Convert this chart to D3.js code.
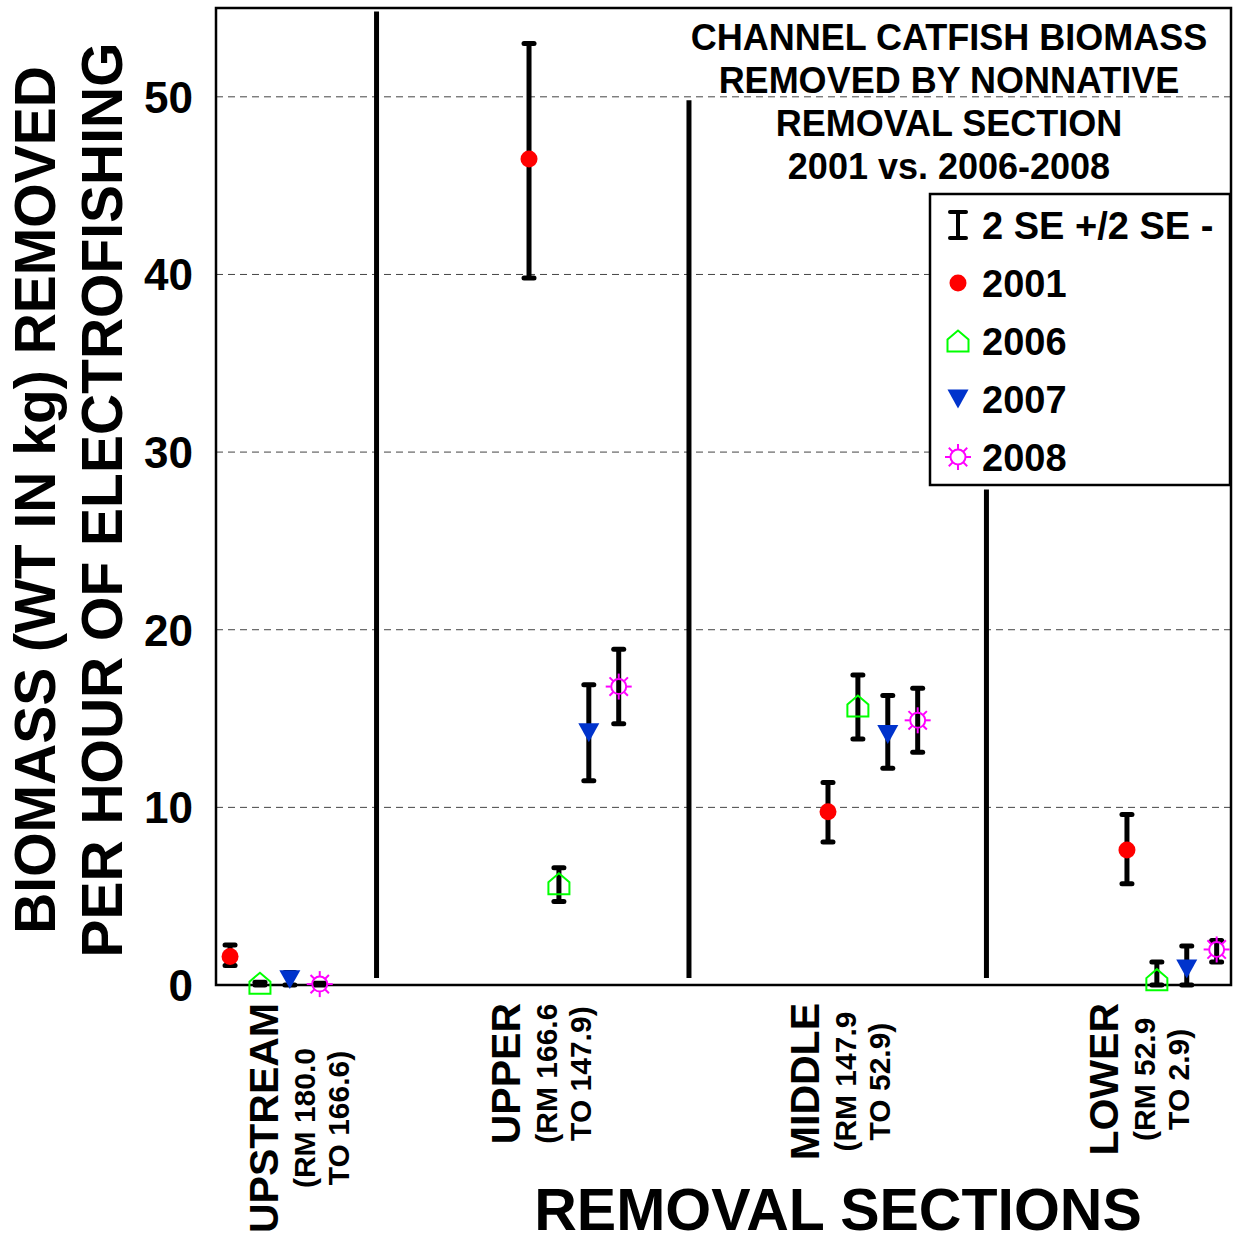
<!DOCTYPE html>
<html>
<head>
<meta charset="utf-8">
<script src="https://cdn.jsdelivr.net/npm/d3@7"></script>
<style>
  html, body { margin: 0; padding: 0; background: #fff; }
  svg { display: block; }
  text { font-family: "Liberation Sans", Arial, sans-serif; font-weight: bold; fill: #000; }
</style>
</head>
<body>
<svg id="chart" width="1239" height="1238"></svg>
<script>
// --- data ---
const groups = ["UPSTREAM", "UPPER", "MIDDLE", "LOWER"];
const groupSub1 = ["(RM 180.0", "(RM 166.6", "(RM 147.9", "(RM 52.9"];
const groupSub2 = ["TO 166.6)", "TO 147.9)", "TO 52.9)", "TO 2.9)"];
const groupOffset = [0, 10, 20, 30];          // x units per section
const labelOffset = [1.6, -0.3, -0.3, -0.3];   // where the section label sits
const separators = [4.9, 15.35, 25.3];
const separatorTop = [54.8, 49.8, 27.9];
const years = ["2001", "2006", "2007", "2008"];

const mean2001 = [1.6, 46.5, 9.75, 7.6];
const hi2001   = [2.25, 53.0, 11.4, 9.6];
const lo2001   = [1.1, 39.8, 8.05, 5.7];
const mean2006 = [0.1, 5.7, 15.7, 0.3];
const hi2006   = [0.15, 6.6, 17.45, 1.3];
const lo2006   = [0.0, 4.7, 13.85, 0.0];
const mean2007 = [0.3, 14.2, 14.1, 0.9];
const hi2007   = [0.7, 16.9, 16.3, 2.2];
const lo2007   = [0.0, 11.5, 12.2, 0.0];
const mean2008 = [0.05, 16.8, 14.9, 2.0];
const hi2008   = [0.1, 18.9, 16.7, 2.5];
const lo2008   = [0.0, 14.7, 13.1, 1.3];

const yTicks = [0, 10, 20, 30, 40, 50];
const titleLines = ["CHANNEL CATFISH BIOMASS", "REMOVED BY NONNATIVE", "REMOVAL SECTION", "2001 vs. 2006-2008"];
const legendLabels = ["2 SE +/2 SE -", "2001", "2006", "2007", "2008"];

const series = [
  { year: "2001", mean: mean2001, hi: hi2001, lo: lo2001, shape: "circle", color: "#ff0000" },
  { year: "2006", mean: mean2006, hi: hi2006, lo: lo2006, shape: "house", color: "#00ff00" },
  { year: "2007", mean: mean2007, hi: hi2007, lo: lo2007, shape: "tri", color: "#0033cc" },
  { year: "2008", mean: mean2008, hi: hi2008, lo: lo2008, shape: "sun", color: "#ff00ff" }
];

// --- layout ---
const svg = d3.select("#chart");
const plot = { left: 216, top: 8, right: 1231, bottom: 985 };

const x = d3.scaleLinear().domain([-0.47, 33.48]).range([plot.left, plot.right]);
const y = d3.scaleLinear().domain([0, 55]).range([plot.bottom, plot.top]);

// grid lines
svg.append("g")
  .selectAll("line")
  .data(yTicks.filter(d => d > 0))
  .join("line")
  .attr("x1", plot.left).attr("x2", plot.right)
  .attr("y1", d => y(d)).attr("y2", d => y(d))
  .attr("stroke", "#444").attr("stroke-width", 1)
  .attr("stroke-dasharray", "7,5");

// y axis tick labels
svg.append("g")
  .selectAll("text")
  .data(yTicks)
  .join("text")
  .attr("x", 193)
  .attr("y", d => y(d))
  .attr("dy", "0.36em")
  .attr("text-anchor", "end")
  .style("font-size", "44px")
  .text(d => d);

// separators between sections
svg.append("g")
  .selectAll("line")
  .data(separators)
  .join("line")
  .attr("x1", d => x(d)).attr("x2", d => x(d))
  .attr("y1", (d, i) => y(separatorTop[i])).attr("y2", y(0.4))
  .attr("stroke", "#000").attr("stroke-width", 5);

// plot frame
svg.append("path")
  .attr("d", `M${plot.left},${plot.bottom}V${plot.top}H${plot.right}V${plot.bottom}Z`)
  .attr("fill", "none").attr("stroke", "#000").attr("stroke-width", 2.5);

// title
svg.append("g")
  .selectAll("text")
  .data(titleLines)
  .join("text")
  .attr("x", 949)
  .attr("y", (d, i) => 50 + i * 43)
  .attr("text-anchor", "middle")
  .style("font-size", "36px")
  .text(d => d);

// marker shapes
function shapePath(shape, s) {
  if (shape === "house") {
    return `M${-s},${s}V${-s * 0.15}L0,${-s}L${s},${-s * 0.15}V${s}Z`;
  }
  if (shape === "tri") {
    return `M${-s},${-s * 0.9}H${s}L0,${s * 0.9}Z`;
  }
  return "";
}

function drawMarker(g, shape, color) {
  if (shape === "circle") {
    g.append("circle").attr("r", 8.5).attr("fill", color);
  } else if (shape === "house") {
    g.append("path").attr("d", shapePath("house", 10.5))
      .attr("fill", "none").attr("stroke", color).attr("stroke-width", 2);
  } else if (shape === "tri") {
    g.append("path").attr("d", shapePath("tri", 10.5)).attr("fill", color);
  } else if (shape === "sun") {
    g.append("circle").attr("r", 7.5).attr("fill", "none")
      .attr("stroke", color).attr("stroke-width", 2);
    d3.range(8).forEach(k => {
      const a = k * Math.PI / 4;
      g.append("line")
        .attr("x1", Math.cos(a) * 8).attr("y1", Math.sin(a) * 8)
        .attr("x2", Math.cos(a) * 13).attr("y2", Math.sin(a) * 13)
        .attr("stroke", color).attr("stroke-width", 2);
    });
  }
}

function drawErrorBar(g, cx, yHi, yLo, capHalf, width) {
  g.append("line").attr("x1", cx).attr("x2", cx).attr("y1", yHi).attr("y2", yLo)
    .attr("stroke", "#000").attr("stroke-width", width);
  [yHi, yLo].forEach(yy => {
    g.append("line").attr("x1", cx - capHalf).attr("x2", cx + capHalf)
      .attr("y1", yy).attr("y2", yy)
      .attr("stroke", "#000").attr("stroke-width", width).attr("stroke-linecap", "round");
  });
}

// data points
const pts = svg.append("g");
series.forEach((s, j) => {
  s.mean.forEach((v, i) => {
    const cx = x(groupOffset[i] + j);
    const g = pts.append("g");
    drawErrorBar(g, cx, y(s.hi[i]), y(s.lo[i]), 5, 5);
    const m = g.append("g").attr("transform", `translate(${cx},${y(v)})`);
    drawMarker(m, s.shape, s.color);
  });
});

// legend
const legend = svg.append("g");
legend.append("rect")
  .attr("x", 930).attr("y", 194).attr("width", 300).attr("height", 291)
  .attr("fill", "#fff").attr("stroke", "#000").attr("stroke-width", 2.5);
legendLabels.forEach((lab, i) => {
  const cy = 225 + i * 58;
  const g = legend.append("g");
  if (i === 0) {
    drawErrorBar(g, 958, cy - 13, cy + 13, 8, 4);
  } else {
    const m = g.append("g").attr("transform", `translate(958,${cy})`);
    drawMarker(m, series[i - 1].shape, series[i - 1].color);
  }
  g.append("text").attr("x", 982).attr("y", cy).attr("dy", "0.36em")
    .style("font-size", "38px").text(lab);
});

// section labels (rotated)
const labels = svg.append("g");
groups.forEach((name, i) => {
  const bx = x(groupOffset[i] + labelOffset[i]);
  const top = 1003;
  const t = labels.append("text")
    .attr("transform", `translate(${bx},${top}) rotate(-90)`)
    .attr("text-anchor", "end")
    .style("font-size", "41px")
    .text(name);
  const len = t.node().getComputedTextLength();
  const mid = top + len / 2;
  [groupSub1[i], groupSub2[i]].forEach((sub, k) => {
    labels.append("text")
      .attr("transform", `translate(${bx + 37 + k * 34},${mid}) rotate(-90)`)
      .attr("text-anchor", "middle")
      .style("font-size", "30px")
      .text(sub);
  });
});

// axis titles
svg.append("text")
  .attr("x", 838).attr("y", 1230)
  .attr("text-anchor", "middle")
  .style("font-size", "59px")
  .text("REMOVAL SECTIONS");

svg.append("text")
  .attr("transform", "translate(55,500) rotate(-90)")
  .attr("text-anchor", "middle")
  .style("font-size", "57px")
  .text("BIOMASS (WT IN kg) REMOVED");

svg.append("text")
  .attr("transform", "translate(122,500) rotate(-90)")
  .attr("text-anchor", "middle")
  .style("font-size", "57px")
  .text("PER HOUR OF ELECTROFISHING");
</script>
</body>
</html>
